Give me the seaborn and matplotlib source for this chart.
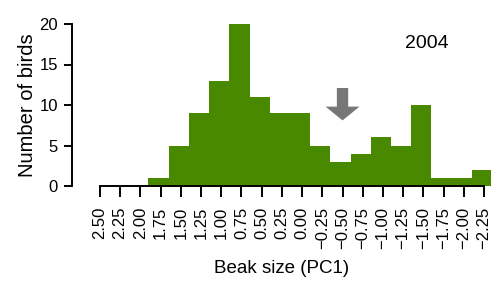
import numpy as np
import pandas as pd
import matplotlib
matplotlib.use("Agg")
import matplotlib.pyplot as plt
import seaborn as sns

# ── Data ──────────────────────────────────────────────────────
bin_mid = [1.775, 1.525, 1.275, 1.025, 0.775, 0.525, 0.275, 0.025,
           -0.225, -0.475, -0.725, -0.975, -1.225, -1.475, -1.725,
           -1.975, -2.225]
n_birds = [1, 5, 9, 13, 20, 11, 9, 9, 5, 3, 4, 6, 5, 10, 1, 1, 2]
xtick_vals = [2.50, 2.25, 2.00, 1.75, 1.50, 1.25, 1.00, 0.75, 0.50, 0.25,
              0.00, -0.25, -0.50, -0.75, -1.00, -1.25, -1.50, -1.75,
              -2.00, -2.25]
ytick_vals = [0, 5, 10, 15, 20]
year_label = "2004"
arrow_x = -0.5
arrow_top, arrow_tip = 12.1, 8.1

GREEN = "#488900"

sns.set_style("ticks")
plt.rcParams["font.family"] = ["Liberation Sans", "DejaVu Sans"]
plt.rcParams["text.color"] = "black"
plt.rcParams["axes.labelcolor"] = "black"
plt.rcParams["xtick.color"] = "black"
plt.rcParams["ytick.color"] = "black"

df = pd.DataFrame({"pc1": bin_mid, "n": n_birds})

fig = plt.figure(figsize=(4.91, 2.81), dpi=100)
ax = fig.add_axes([72 / 491, 95 / 281, 419 / 491, 162 / 281])

sns.histplot(data=df, x="pc1", weights="n", binwidth=0.25,
             binrange=(-2.35, 1.90), color=GREEN, alpha=1,
             edgecolor="none", linewidth=0, ax=ax)

ax.set_xlim(2.845, -2.336)
ax.set_ylim(0, 20)

ax.set_xticks(xtick_vals)
ax.set_xticklabels([f"{v:.2f}".replace("-", "\u2212") for v in xtick_vals],
                   rotation=90, fontsize=12)
ax.set_yticks(ytick_vals)
ax.set_yticklabels([str(v) for v in ytick_vals], fontsize=12)

ax.tick_params(axis="x", length=8, width=1.4, color="black", pad=7)
ax.tick_params(axis="y", length=6, width=1.4, color="black", pad=4)

sns.despine(ax=ax)
ax.spines["left"].set_bounds(0, 20)
ax.spines["bottom"].set_bounds(-2.25, 2.5)
ax.spines["left"].set_linewidth(1.4)
ax.spines["bottom"].set_linewidth(1.4)
ax.spines["left"].set_color("black")
ax.spines["bottom"].set_color("black")

ax.set_xlabel("Beak size (PC1)", fontsize=13.5, labelpad=8)
ax.set_ylabel("Number of birds", fontsize=14.5, labelpad=2)

ax.text(-1.54, 17.6, year_label, fontsize=14, ha="center", va="center")

# gray arrow pointing down
ax.arrow(arrow_x, arrow_top, 0, arrow_tip - arrow_top, width=0.14,
         head_width=0.42, head_length=1.7, length_includes_head=True,
         color="#777777", linewidth=0)

fig.savefig("out.png", dpi=100)
